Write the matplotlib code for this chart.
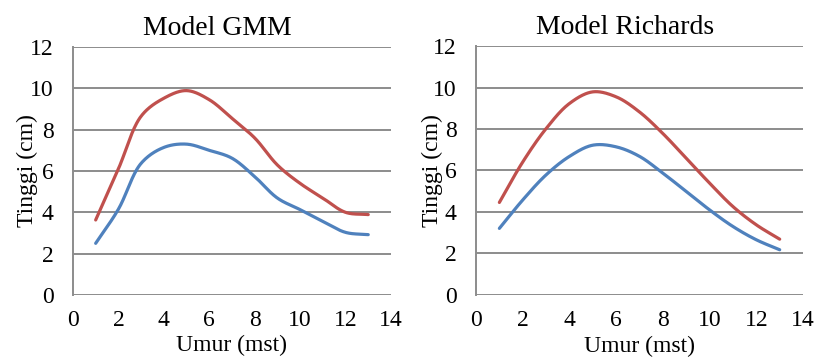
import numpy as np
import matplotlib.pyplot as plt

plt.rcParams['font.family'] = ['Liberation Serif', 'DejaVu Serif']

# weeks after planting (mst)
umur = [1, 2, 3, 4, 5, 6, 7, 8, 9, 10, 11, 12, 13]

# Model GMM
gmm_red = [3.63, 6.1, 8.65, 9.52, 9.89, 9.45, 8.55, 7.6, 6.29, 5.4, 4.69, 4.0, 3.89]
gmm_blue = [2.5, 4.15, 6.37, 7.14, 7.3, 7.0, 6.62, 5.73, 4.69, 4.13, 3.56, 3.03, 2.92]

# Model Richards
rich_red = [4.46, 6.41, 8.02, 9.23, 9.79, 9.55, 8.82, 7.78, 6.59, 5.39, 4.26, 3.38, 2.69]
rich_blue = [3.21, 4.58, 5.79, 6.68, 7.22, 7.14, 6.68, 5.87, 4.99, 4.1, 3.3, 2.66, 2.18]

RED = '#C0504D'
BLUE = '#4F81BD'
GRID = '#8C8C8C'


def smooth(x, y, n=30, alpha=0.5):
    # centripetal Catmull-Rom, close to Excel's "smoothed line"
    pts = np.column_stack([np.asarray(x, float) * 1.1, np.asarray(y, float)])
    pts = np.vstack([2 * pts[0] - pts[1], pts, 2 * pts[-1] - pts[-2]])
    out = []
    for i in range(1, len(pts) - 2):
        p0, p1, p2, p3 = pts[i - 1], pts[i], pts[i + 1], pts[i + 2]
        t0 = 0.0
        t1 = t0 + np.linalg.norm(p1 - p0) ** alpha
        t2 = t1 + np.linalg.norm(p2 - p1) ** alpha
        t3 = t2 + np.linalg.norm(p3 - p2) ** alpha
        t = np.linspace(t1, t2, n, endpoint=False)[:, None]
        a1 = (t1 - t) / (t1 - t0) * p0 + (t - t0) / (t1 - t0) * p1
        a2 = (t2 - t) / (t2 - t1) * p1 + (t - t1) / (t2 - t1) * p2
        a3 = (t3 - t) / (t3 - t2) * p2 + (t - t2) / (t3 - t2) * p3
        b1 = (t2 - t) / (t2 - t0) * a1 + (t - t0) / (t2 - t0) * a2
        b2 = (t3 - t) / (t3 - t1) * a2 + (t - t1) / (t3 - t1) * a3
        c = (t2 - t) / (t2 - t1) * b1 + (t - t1) / (t2 - t1) * b2
        out.append(c)
    out.append(pts[-2][None, :])
    out = np.vstack(out)
    return out[:, 0] / 1.1, out[:, 1]


fig = plt.figure(figsize=(8.29, 3.58), dpi=100)
ax1 = fig.add_axes([0.088, 0.176, 0.3836, 0.6927])
ax2 = fig.add_axes([0.5742, 0.176, 0.3945, 0.6955])

panels = [
    (ax1, 'Model GMM', gmm_red, gmm_blue),
    (ax2, 'Model Richards', rich_red, rich_blue),
]

for ax, title, red, blue in panels:
    for vals, col in ((blue, BLUE), (red, RED)):
        sx, sy = smooth(umur, vals)
        ax.plot(sx, sy, color=col, lw=2.3, solid_capstyle='round', zorder=3)

    ax.set_xlim(0, 14)
    ax.set_ylim(0, 12)
    ax.set_xticks(range(0, 15, 2))
    ax.set_yticks(range(0, 13, 2))
    ax.tick_params(length=0, labelsize=17)
    ax.tick_params(axis='x', pad=11)
    ax.tick_params(axis='y', pad=14)
    ax.grid(axis='y', color=GRID, lw=1.4)
    ax.set_axisbelow(True)
    for s in ('top', 'right', 'bottom'):
        ax.spines[s].set_visible(False)
    ax.spines['left'].set_color(GRID)
    ax.spines['left'].set_linewidth(1.4)

    ax.set_title(title, fontsize=20, x=0.455, pad=9)
    ax.set_xlabel('Umur (mst)', fontsize=17, va='center')
    ax.xaxis.set_label_coords(0.5, -0.205)
    ax.set_ylabel('Tinggi (cm)', fontsize=17, va='center')

ax1.yaxis.set_label_coords(-0.142, 0.5)
ax2.yaxis.set_label_coords(-0.132, 0.5)

fig.savefig('out.png', dpi=100)
